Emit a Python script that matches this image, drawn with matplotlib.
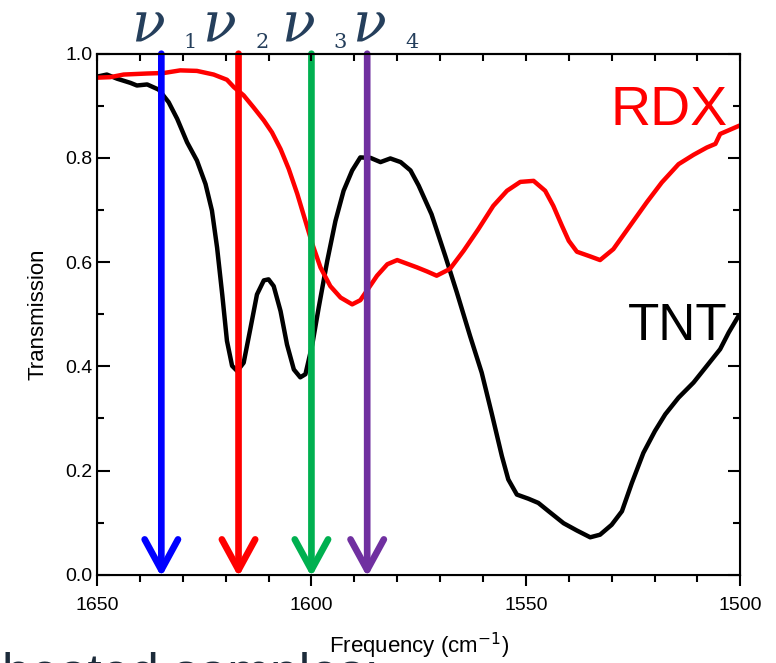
import matplotlib.pyplot as plt
from matplotlib.ticker import MultipleLocator

# Spectra (wavenumber in cm^-1, transmission)
tnt_freq = [1650, 1647.7, 1645.3, 1642.2, 1640.7, 1638.3, 1635.6, 1633.3, 1631.3, 1629,
            1626.7, 1624.7, 1623.2, 1622, 1620.8, 1619.7, 1618.5, 1617.3, 1615.8, 1614.2,
            1612.7, 1611.1, 1610, 1608.8, 1607.2, 1605.7, 1604.1, 1602.6, 1601.4, 1599.8,
            1598.3, 1596.3, 1594.4, 1592.5, 1590.5, 1588.6, 1586.2, 1583.9, 1581.6, 1579.2,
            1576.9, 1575, 1572, 1568.8, 1566.1, 1563, 1560.3, 1558, 1555.6, 1554.1,
            1552.1, 1549.4, 1547.1, 1544.7, 1541.2, 1538.1, 1535, 1532.7, 1530, 1527.6,
            1525.3, 1522.6, 1519.9, 1517.5, 1514.4, 1510.9, 1507.8, 1504.7, 1502.7, 1500.4]
tnt_trans = [0.956, 0.960, 0.952, 0.944, 0.939, 0.941, 0.931, 0.907, 0.875, 0.830,
             0.795, 0.750, 0.699, 0.628, 0.538, 0.449, 0.401, 0.391, 0.407, 0.474,
             0.538, 0.565, 0.567, 0.554, 0.506, 0.442, 0.394, 0.379, 0.385, 0.442,
             0.513, 0.603, 0.679, 0.737, 0.776, 0.801, 0.800, 0.792, 0.799, 0.792,
             0.776, 0.747, 0.692, 0.612, 0.542, 0.458, 0.388, 0.311, 0.228, 0.183,
             0.154, 0.146, 0.138, 0.122, 0.099, 0.085, 0.072, 0.077, 0.096, 0.122,
             0.176, 0.234, 0.276, 0.308, 0.340, 0.369, 0.401, 0.433, 0.465, 0.497]

rdx_freq = [1650, 1646.9, 1643.8, 1638.3, 1634.4, 1630.6, 1626.7, 1622.8, 1619.7, 1618.1,
            1615.8, 1613.5, 1611.1, 1609.2, 1607.2, 1605.3, 1603.3, 1601.4, 1599.8, 1597.9,
            1595.6, 1593.2, 1590.5, 1588.6, 1586.6, 1584.7, 1582.3, 1580, 1577.7, 1575.4,
            1573, 1570.8, 1567.7, 1564.5, 1561.1, 1557.6, 1554.4, 1551.3, 1548.2, 1545.5,
            1543.6, 1541.6, 1540, 1538.1, 1535, 1532.7, 1529.6, 1525.7, 1521.8, 1518.3,
            1514.4, 1510.9, 1507.8, 1505.8, 1504.7, 1503, 1500.2]
rdx_trans = [0.954, 0.955, 0.960, 0.962, 0.963, 0.968, 0.967, 0.960, 0.950, 0.936,
             0.920, 0.897, 0.872, 0.849, 0.817, 0.779, 0.731, 0.679, 0.635, 0.590,
             0.554, 0.532, 0.519, 0.527, 0.551, 0.574, 0.596, 0.604, 0.597, 0.590,
             0.582, 0.574, 0.587, 0.622, 0.663, 0.708, 0.737, 0.754, 0.756, 0.737,
             0.708, 0.670, 0.641, 0.620, 0.611, 0.604, 0.625, 0.670, 0.715, 0.753,
             0.788, 0.806, 0.820, 0.827, 0.846, 0.852, 0.862]

# vibrational modes marked by arrows
mode_freq = [1635, 1617, 1600, 1587]
mode_colors = ['#0000ff', '#ff0000', '#00b050', '#7030a0']
mode_labels = ['1', '2', '3', '4']

plt.rcParams['font.family'] = ['Liberation Sans', 'DejaVu Sans']

fig = plt.figure(figsize=(7.76, 6.63), dpi=100)
ax = fig.add_axes([0.125, 0.133, 0.829, 0.786])

ax.plot(tnt_freq, tnt_trans, color='black', lw=3.2,
        solid_joinstyle='round', solid_capstyle='round')
ax.plot(rdx_freq, rdx_trans, color='#ff0000', lw=3.2,
        solid_joinstyle='round', solid_capstyle='round')

for f, c in zip(mode_freq, mode_colors):
    ax.annotate('', xy=(f, -0.004), xytext=(f, 1.0), annotation_clip=False,
                arrowprops=dict(arrowstyle='->, head_length=22, head_width=12',
                                mutation_scale=1, color=c, lw=4.8,
                                capstyle='round', joinstyle='round',
                                shrinkA=0, shrinkB=0))

ax.set_xlim(1650, 1500)
ax.set_ylim(0, 1.0)
ax.xaxis.set_major_locator(MultipleLocator(50))
ax.xaxis.set_minor_locator(MultipleLocator(10))
ax.yaxis.set_major_locator(MultipleLocator(0.2))
ax.yaxis.set_minor_locator(MultipleLocator(0.1))
ax.yaxis.set_major_formatter(plt.FormatStrFormatter('%.1f'))

for s in ax.spines.values():
    s.set_linewidth(1.5)
# bottom ticks point out, left and right ticks point in
ax.tick_params(axis='x', which='both', direction='out', width=1.5, labelsize=14, pad=8)
ax.tick_params(axis='x', which='major', length=8)
ax.tick_params(axis='x', which='minor', length=5)
ax.tick_params(axis='y', which='both', direction='in', width=1.5, labelsize=14,
               right=True)
ax.tick_params(axis='y', which='major', length=9)
ax.tick_params(axis='y', which='minor', length=5)

# top ticks point in
axt = ax.twiny()
axt.set_xlim(ax.get_xlim())
axt.xaxis.set_major_locator(MultipleLocator(50))
axt.xaxis.set_minor_locator(MultipleLocator(10))
axt.tick_params(axis='x', which='both', direction='in', width=1.5, labeltop=False, length=5)
axt.spines['top'].set_linewidth(1.5)

ax.set_xlabel('Frequency (cm$^{-1}$)', fontsize=16, labelpad=12)
ax.set_ylabel('Transmission', fontsize=16, labelpad=12)

ax.text(1503, 0.864, 'RDX', color='#ff0000', fontsize=40, ha='right', va='baseline')
ax.text(1503, 0.451, 'TNT', color='black', fontsize=37, ha='right', va='baseline')

nu_color = '#253f5c'
nu_x = [148, 219, 298, 369]
sub_x = [190, 262, 340, 412]
for nx, sx, lab in zip(nu_x, sub_x, mode_labels):
    fig.text(nx / 776, 1 - 42 / 663, '\u03bd', family='DejaVu Serif', style='italic',
             fontsize=40, color=nu_color, ha='center', va='baseline')
    fig.text(sx / 776, 1 - 48 / 663, lab, family='DejaVu Serif',
             fontsize=15, color=nu_color, ha='center', va='baseline')

fig.text(0.003, -0.04, 'heated samples:', fontsize=37, color='#1c2b3a',
         ha='left', va='baseline')

fig.savefig('out.png', dpi=100)
